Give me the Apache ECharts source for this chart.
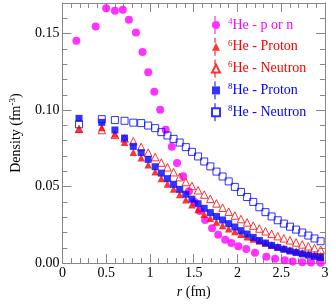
<!DOCTYPE html>
<html><head><meta charset="utf-8">
<script src="https://cdn.jsdelivr.net/npm/echarts@6/dist/echarts.min.js"></script>
<style>html,body{margin:0;padding:0;background:#fff}#c{width:332px;height:304px}</style>
</head><body><div id="c"></div>
<script>
// ---- data ----
const r4 = [0.16,0.38,0.50,0.60,0.69,0.76,0.84,0.915,0.98,1.05,1.117,1.18,1.25,1.31,1.38,1.445,1.51,1.57,1.63,1.71,1.78,1.86,1.93,2.01,2.10,2.20,2.33,2.43,2.54,2.63,2.74,2.84,2.95];
const he4 = [.1454,.1546,.1665,.1650,.1656,.1590,.1508,.1379,.1248,.1120,.1002,.0871,.0760,.0655,.0567,.0470,.0400,.0340,.0282,.0227,.0185,.0152,.0131,.0110,.0092,.0068,.0041,.0028,.0019,.0011,.0006,.0004,.0002];
const r68 = [0.19,0.45,0.60,0.71,0.81,0.90,0.98,1.06,1.13,1.20,1.27,1.34,1.41,1.48,1.55,1.62,1.69,1.76,1.83,1.90,1.97,2.04,2.11,2.18,2.25,2.32,2.39,2.46,2.53,2.60,2.67,2.74,2.81,2.88,2.95];
const he6p = [.0875,.0886,.0843,.0790,.0725,.0689,.0642,.0597,.0553,.0517,.0485,.0448,.0414,.0381,.0350,.0320,.0293,.0268,.0246,.0225,.0206,.0189,.0173,.0158,.0144,.0131,.0119,.0108,.0098,.0088,.0079,.0070,.0062,.0055,.0048];
const he6n = [.0877,.0870,.0838,.0815,.0796,.0759,.0722,.0693,.0657,.0626,.0594,.0562,.0530,.0504,.0476,.0448,.0420,.0390,.0362,.0336,.0311,.0288,.0266,.0245,.0226,.0208,.0191,.0176,.0162,.0149,.0135,.0122,.0110,.0098,.0087];
const he8p = [.0946,.0920,.0870,.0817,.0763,.0722,.0678,.0630,.0588,.0552,.0515,.0482,.0450,.0418,.0388,.0358,.0330,.0305,.0282,.0258,.0236,.0212,.0190,.0168,.0148,.0131,.0116,.0102,.0090,.0079,.0069,.0060,.0052,.0044,.0037];
const he8n = [.0907,.0941,.0935,.0930,.0918,.0915,.0899,.0882,.0856,.0834,.0812,.0788,.0758,.0727,.0697,.0664,.0632,.0598,.0566,.0534,.0498,.0465,.0432,.0400,.0365,.0333,.0305,.0280,.0258,.0238,.0219,.0200,.0180,.0161,.0143];
const xTickLabels = ['0','0.5','1','1.5','2','2.5','3'];
const yTickLabels = ['0.00','0.05','0.10','0.15'];
const legendNames = ['4He - p or n','6He - Proton','6He - Neutron','8He - Proton','8He - Neutron'];
const legendColors = ['#ff00ff','#ff0000','#ff0000','#0000ff','#0000ff'];

// ---- chart ----
const FONT = 'Liberation Serif';
const GRAY = '#888888';
const zip = (xs, ys) => xs.map((x, i) => [x, ys[i]]);
const chart = echarts.init(document.getElementById('c'), null, {renderer: 'canvas'});

const baseLine = {show: true, onZero: false, lineStyle: {color: GRAY, width: 1}};
const noLine = {show: false, onZero: false};
const tick = (len) => ({show: true, inside: true, length: len, lineStyle: {color: GRAY, width: 1}});
const labelFont = {fontFamily: FONT, fontSize: 14, color: '#000'};

const LEG_TOP = 17, ROW = 21.8, LEG_X = 215, ICON = 8;
const errBars = [];
legendColors.forEach((c, i) => {
  const cy = LEG_TOP + 8 + i * ROW;
  errBars.push({type: 'line', silent: true, shape: {x1: LEG_X, y1: cy - 9, x2: LEG_X, y2: cy - 4}, style: {stroke: c, lineWidth: 1}});
  errBars.push({type: 'line', silent: true, shape: {x1: LEG_X, y1: cy + 4, x2: LEG_X, y2: cy + 9}, style: {stroke: c, lineWidth: 1}});
});

const option = {
  animation: false,
  backgroundColor: '#fff',
  grid: {left: 58, right: 7, top: 3, bottom: 37},
  xAxis: [
    {type: 'value', position: 'bottom', min: 0, max: 3, interval: 0.5,
     axisLine: baseLine, axisTick: tick(9),
     minorTick: {show: true, splitNumber: 5, length: 5, lineStyle: {color: GRAY, width: 1}},
     splitLine: {show: false}, minorSplitLine: {show: false},
     axisLabel: Object.assign({margin: 3, formatter: v => xTickLabels[Math.round(v / 0.5)]}, labelFont),
     name: '{i|r} (fm)', nameLocation: 'middle', nameGap: 21,
     nameTextStyle: {fontFamily: FONT, fontSize: 14, color: '#000', rich: {i: {fontFamily: FONT, fontSize: 14, fontStyle: 'italic', color: '#000'}}}},
    {type: 'value', position: 'top', min: 0, max: 3, interval: 0.5,
     axisLine: baseLine, axisTick: tick(9),
     minorTick: {show: true, splitNumber: 5, length: 5, lineStyle: {color: GRAY, width: 1}},
     splitLine: {show: false}, axisLabel: {show: false}}
  ],
  yAxis: [
    {type: 'value', position: 'left', min: 0, max: 0.17, interval: 0.05,
     axisLine: baseLine, axisTick: tick(9), splitLine: {show: false},
     axisLabel: Object.assign({margin: 3, showMaxLabel: false, formatter: v => {
       const k = v / 0.05; return Math.abs(k - Math.round(k)) < 1e-6 ? yTickLabels[Math.round(k)] : ''; }}, labelFont),
     name: 'Density (fm{s|-3})', nameLocation: 'middle', nameRotate: 90, nameGap: 38,
     nameTextStyle: {fontFamily: FONT, fontSize: 14, color: '#000', lineHeight: 16,
       rich: {s: {fontFamily: FONT, fontSize: 9, lineHeight: 9, verticalAlign: 'top', color: '#000'}}}},
    {type: 'value', position: 'left', min: 0, max: 0.17, interval: 0.01,
     axisLine: noLine, axisTick: tick(5), splitLine: {show: false}, axisLabel: {show: false}},
    {type: 'value', position: 'right', min: 0, max: 0.17, interval: 0.05,
     axisLine: baseLine, axisTick: tick(9), splitLine: {show: false}, axisLabel: {show: false}},
    {type: 'value', position: 'right', min: 0, max: 0.17, interval: 0.01,
     axisLine: noLine, axisTick: tick(5), splitLine: {show: false}, axisLabel: {show: false}}
  ],
  legend: {
    orient: 'vertical', left: LEG_X - ICON / 2, top: LEG_TOP, padding: 0,
    itemWidth: ICON, itemHeight: ICON, itemGap: ROW - 16, selectedMode: false,
    formatter: n => '{s|' + n[0] + '}' + n.slice(1),
    textStyle: {fontFamily: FONT, fontSize: 14, lineHeight: 16,
      rich: {s: {fontFamily: FONT, fontSize: 9, lineHeight: 9, verticalAlign: 'top', padding: [0, 0, 0, 3]}}},
    data: legendNames.map((n, i) => ({name: n, textStyle: {color: legendColors[i]}}))
  },
  graphic: errBars,
  series: [
    {type: 'scatter', name: legendNames[0], data: zip(r4, he4), symbol: 'circle', symbolSize: 8,
     itemStyle: {color: '#ff00ff'}},
    {type: 'scatter', name: legendNames[1], data: zip(r68, he6p), symbol: 'triangle', symbolSize: 7.5,
     itemStyle: {color: '#ff0000'}},
    {type: 'scatter', name: legendNames[2], data: zip(r68, he6n), symbol: 'triangle', symbolSize: 7.5,
     itemStyle: {color: 'rgba(255,255,255,0)', borderColor: '#ff0000', borderWidth: 1}},
    {type: 'scatter', name: legendNames[3], data: zip(r68, he8p), symbol: 'rect', symbolSize: 7,
     itemStyle: {color: '#0000ff'}},
    {type: 'scatter', name: legendNames[4], data: zip(r68, he8n), symbol: 'rect', symbolSize: 7,
     itemStyle: {color: 'rgba(255,255,255,0)', borderColor: '#0000ff', borderWidth: 1}}
  ]
};
chart.setOption(option);
</script>
</body></html>
